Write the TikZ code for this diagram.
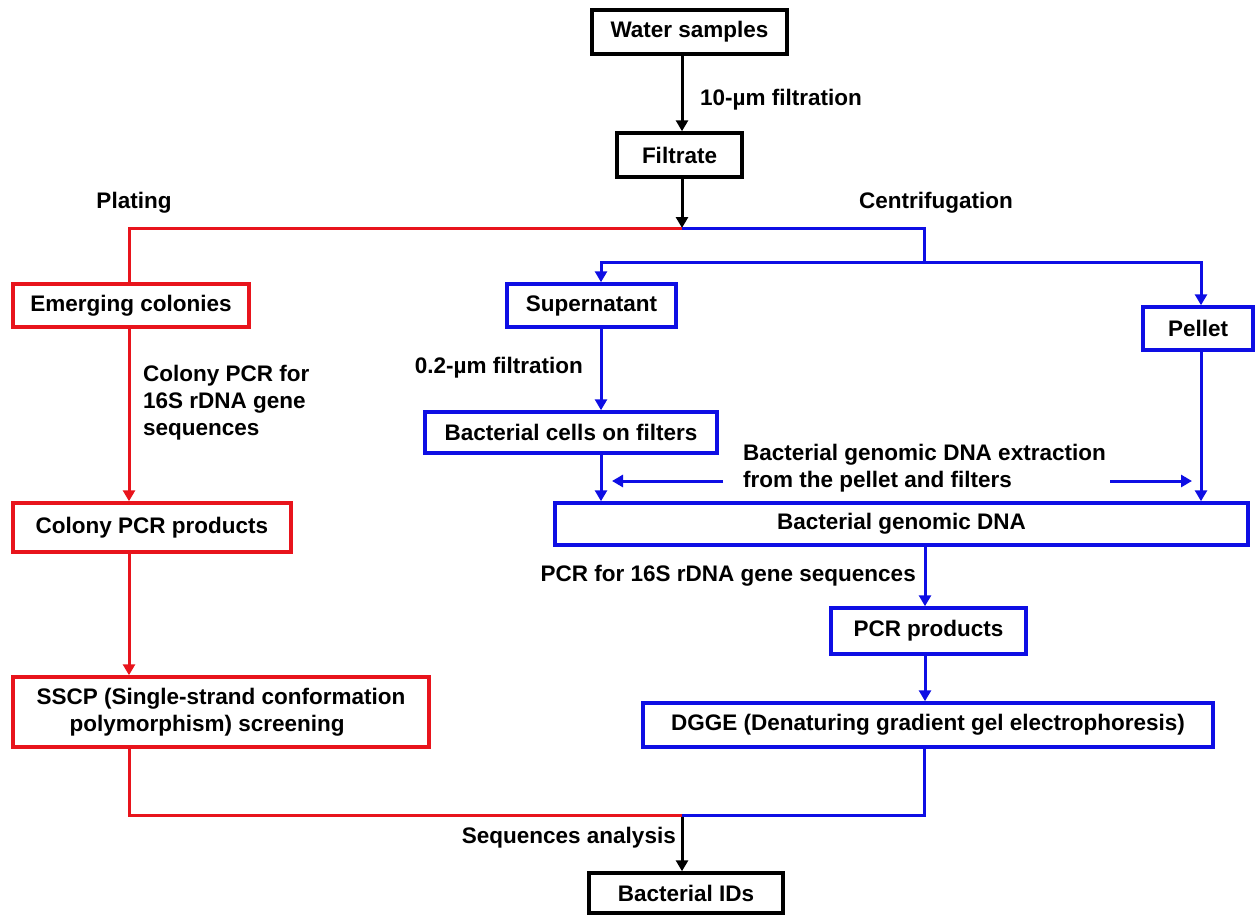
\documentclass[tikz,border=0pt]{standalone}
\usepackage{fontspec}
\setmainfont{Liberation Sans}
\usetikzlibrary{arrows.meta}
\definecolor{myred}{RGB}{232,20,28}
\definecolor{myblue}{RGB}{14,14,228}
\begin{document}
\begin{tikzpicture}[x=1pt,y=-1pt,
  every node/.style={font=\fontsize{22.5}{27}\selectfont\bfseries, inner sep=0pt, text=black},
  box/.style args={#1/#2}{draw, line width=3.5pt, minimum width=#1pt, minimum height=#2pt},
  conn/.style={line width=3pt},
  arr/.style={line width=3pt, -{Triangle[length=11pt,width=12pt]}},
  lbl/.style={align=left}
]
\useasboundingbox[fill=white] (0,0) rectangle (1255,916);

% coordinates for connector routing
\coordinate (jt) at (682,228);
\coordinate (jb) at (682,815);
\coordinate (rx) at (129,0);
\coordinate (c1) at (924,262);
\coordinate (bx) at (601,0);
\coordinate (px) at (1201,0);
\coordinate (gx) at (925,0);
\coordinate (a1) at (723,481);
\coordinate (a2) at (612,481);
\coordinate (a3) at (1110,481);
\coordinate (a4) at (1192,481);

% boxes
\node[box=195/44, draw=black] (ws) at (689.5,32) {Water samples};
\node[box=125/44, draw=black] (ft) at (679.5,155) {Filtrate};
\node[box=236/43, draw=myred] (ec) at (131,305.5) {Emerging colonies};
\node[box=169/43, draw=myblue] (sn) at (591.5,305.5) {Supernatant};
\node[box=110/43, draw=myblue] (pl) at (1198,328.5) {Pellet};
\node[box=292/41, draw=myblue] (bc) at (571,432.5) {Bacterial cells on filters};
\node[box=278/49, draw=myred] (cpp) at (152,527.5) {Colony PCR products};
\node[box=693/42, draw=myblue] (gd) at (901.5,524) {Bacterial genomic DNA};
\node[box=195/46, draw=myblue] (pp) at (928.5,631) {PCR products};
\node[box=416/70, draw=myred, align=left] (sscp) at (221,712) {SSCP (Single-strand conformation\\\hspace*{33pt}polymorphism) screening};
\node[box=570/44, draw=myblue] (dg) at (928,725) {DGGE (Denaturing gradient gel electrophoresis)};
\node[box=194/40, draw=black] (ids) at (686,893) {Bacterial IDs};

% labels
\node[anchor=west] (l1) at (700,100) {10-µm filtration};
\node (l2) at (134,203) {Plating};
\node (l3) at (936,203) {Centrifugation};
\node[lbl, anchor=west] (l4) at (143,403) {Colony PCR for\\16S rDNA gene\\sequences};
\node[anchor=east] (l5) at (583,368) {0.2-µm filtration};
\node[lbl, anchor=west] (l6) at (743,468) {Bacterial genomic DNA extraction\\from the pellet and filters};
\node[anchor=east] (l7) at (916,576) {PCR for 16S rDNA gene sequences};
\node[anchor=east] (l8) at (676,838) {Sequences analysis};

% black connectors
\draw[arr] (ws.south -| jt) -- (ft.north -| jt);
\draw[arr] (ft.south -| jt) -- (jt);
\draw[arr] (jb) -- (ids.north -| jb);

% red branch
\draw[conn, myred] (jt) -| (ec.north -| rx);
\draw[arr, myred] (ec.south -| rx) -- (cpp.north -| rx);
\draw[arr, myred] (cpp.south -| rx) -- (sscp.north -| rx);
\draw[conn, myred] (sscp.south -| rx) |- (jb);

% blue branch
\draw[conn, myblue] (jt) -| (c1);
\draw[arr, myblue] (c1) -| (sn.north -| bx);
\draw[arr, myblue] (c1) -| (pl.north -| px);
\draw[arr, myblue] (sn.south -| bx) -- (bc.north -| bx);
\draw[arr, myblue] (bc.south -| bx) -- (gd.north -| bx);
\draw[arr, myblue] (pl.south -| px) -- (gd.north -| px);
\draw[arr, myblue] (a1) -- (a2);
\draw[arr, myblue] (a3) -- (a4);
\draw[arr, myblue] (gd.south -| gx) -- (pp.north -| gx);
\draw[arr, myblue] (pp.south -| gx) -- (dg.north -| gx);
\draw[conn, myblue] (dg.south -| c1) |- (jb);
\end{tikzpicture}
\end{document}
